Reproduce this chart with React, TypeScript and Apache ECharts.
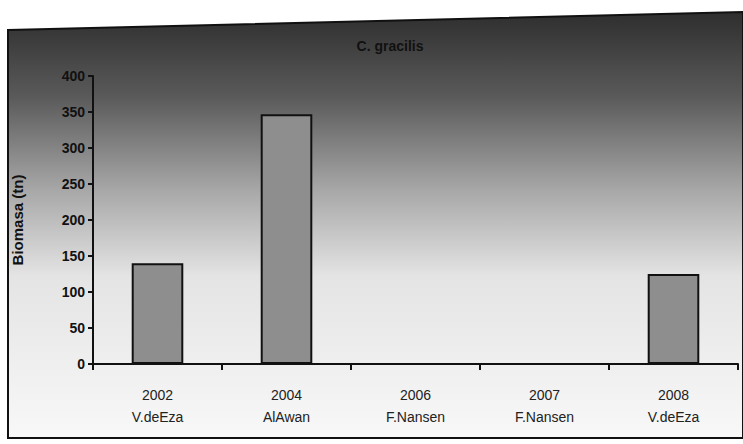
import React, { useEffect, useRef } from "react";
import * as echarts from "echarts";

const years = ["2002", "2004", "2006", "2007", "2008"];
const vessels = ["V.deEza", "AlAwan", "F.Nansen", "F.Nansen", "V.deEza"];
const biomass = [140, 347, 0, 0, 125];
const titleText = "C. gracilis";
const yAxisName = "Biomasa (tn)";

export default function App() {
  const ref = useRef<HTMLDivElement>(null);
  useEffect(() => {
    if (!ref.current) return;
    const chart = echarts.init(ref.current, undefined, { renderer: "svg" });
    const categories = years.map((y, i) => y + "\n" + vessels[i]);
    chart.setOption({
      animation: false,
      backgroundColor: "#ffffff",
      graphic: [
        {
          type: "polygon",
          z: -10,
          shape: { points: [[8, 30], [743, 12], [743, 438], [8, 438]] },
          style: {
            fill: new echarts.graphic.LinearGradient(0, 0, 0, 1, [
              { offset: 0, color: "#2e2e2e" },
              { offset: 0.2, color: "#5a5a5a" },
              { offset: 0.42, color: "#a8a8a8" },
              { offset: 0.62, color: "#e4e4e4" },
              { offset: 1, color: "#f8f8f8" },
            ]),
            stroke: "#111",
            lineWidth: 2,
          },
        },
      ],
      title: {
        text: titleText,
        left: 385,
        top: 34,
        textAlign: "center",
        textStyle: { color: "#111", fontSize: 14, fontWeight: "bold", fontFamily: "Liberation Sans, Arial" },
      },
      grid: { left: 93, right: 5, top: 76, bottom: 80 },
      xAxis: {
        type: "category",
        data: categories,
        axisLine: { lineStyle: { color: "#111", width: 2 } },
        axisTick: { show: true, alignWithLabel: false, length: 6, lineStyle: { color: "#111", width: 2 } },
        axisLabel: {
          color: "#222",
          fontSize: 14,
          fontFamily: "Liberation Sans, Arial",
          lineHeight: 22,
          margin: 20,
        },
      },
      yAxis: {
        type: "value",
        min: 0,
        max: 400,
        interval: 50,
        name: yAxisName,
        nameLocation: "middle",
        nameGap: 68,
        nameRotate: 90,
        nameTextStyle: { color: "#111", fontSize: 15, fontWeight: "bold", fontFamily: "Liberation Sans, Arial" },
        axisLine: { show: true, lineStyle: { color: "#111", width: 2 } },
        axisTick: { show: true, length: 5, lineStyle: { color: "#111", width: 2 } },
        splitLine: { show: false },
        axisLabel: {
          color: "#111",
          fontSize: 14,
          fontWeight: "bold",
          fontFamily: "Liberation Sans, Arial",
          margin: 8,
        },
      },
      series: [
        {
          type: "bar",
          data: biomass,
          barWidth: "40%",
          itemStyle: { color: "#8e8e8e", borderColor: "#111", borderWidth: 2 },
        },
      ],
    });
    return () => chart.dispose();
  }, []);
  return <div ref={ref} style={{ width: 743, height: 444, position: "absolute", left: 0, top: 0 }} />;
}
